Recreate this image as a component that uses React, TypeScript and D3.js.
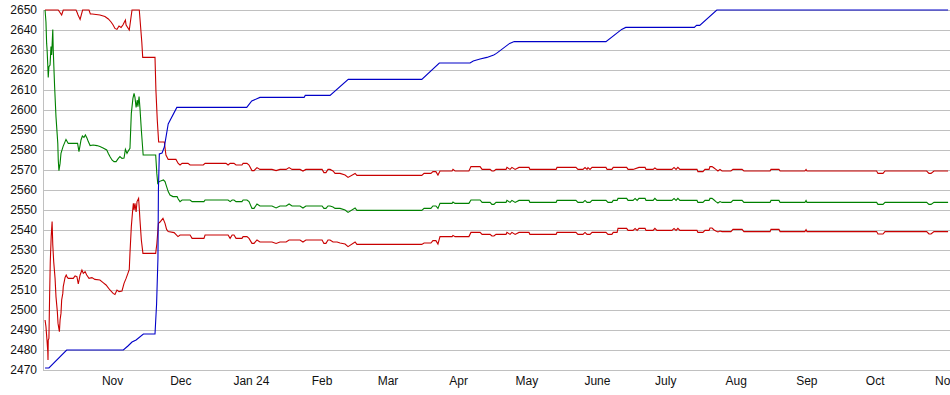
import React from "react";
import * as d3 from "d3";

// Time axis: day offsets from 2023-10-01 (UTC)
const START = Date.UTC(2023, 9, 1);
const END = Date.UTC(2024, 10, 2);

const yTicks = [2470, 2480, 2490, 2500, 2510, 2520, 2530, 2540, 2550, 2560, 2570, 2580, 2590, 2600, 2610, 2620, 2630, 2640, 2650];

const monthTicks: [string, string][] = [
  ["2023-11-01", "Nov"], ["2023-12-01", "Dec"], ["2024-01-01", "Jan 24"], ["2024-02-01", "Feb"],
  ["2024-03-01", "Mar"], ["2024-04-01", "Apr"], ["2024-05-01", "May"], ["2024-06-01", "June"],
  ["2024-07-01", "July"], ["2024-08-01", "Aug"], ["2024-09-01", "Sep"], ["2024-10-01", "Oct"],
  ["2024-11-01", "Nov"],
];

// [day offset, value]
const blueLine: [number, number][] = [
  [0.9, 2471], [2.6, 2471], [10.4, 2480], [35.3, 2480], [37.3, 2482], [39.1, 2484], [40.9, 2485],
  [44.1, 2488], [49.2, 2488], [49.9, 2503], [50.5, 2526], [50.7, 2560], [51.1, 2578], [52.3, 2578.5],
  [53.3, 2581.5], [55.0, 2593], [58.8, 2601.3], [89.5, 2601.3], [91.7, 2604.5], [95.3, 2606.3],
  [114.7, 2606.3], [115.2, 2607.3], [126.1, 2607.3], [134.1, 2615.3], [166.4, 2615.3], [174.1, 2623.5],
  [187.6, 2623.5], [189, 2624.5], [192, 2625.5], [195, 2626.3], [198, 2627.5], [199.2, 2628.3],
  [205, 2633.3], [207, 2634.2], [247.3, 2634.2], [254.2, 2640.3], [256, 2641.3], [286.1, 2641.3],
  [287.1, 2642.3], [288.5, 2642.3], [296, 2650], [397.6, 2650],
];

const upperBand: [number, number][] = [
  [0.9, 2650], [6.7, 2650], [8.2, 2647.5], [8.9, 2650], [14.5, 2650], [14.9, 2649], [15.4, 2647.5],
  [16.3, 2645.3], [17.4, 2650], [20.2, 2650], [20.8, 2648], [21.6, 2648], [25.0, 2647.5], [27.2, 2646.7],
  [28.7, 2645.5], [29.9, 2644], [30.8, 2642.5], [31.6, 2640.8], [32.5, 2640.3], [33.4, 2642],
  [34.3, 2641.3], [35.1, 2642.5], [36.2, 2645], [36.5, 2642.5], [37.9, 2640], [39.1, 2650], [42.3, 2650],
  [43.4, 2634], [43.8, 2626.3], [49.2, 2626.3], [49.6, 2610], [50.2, 2595], [50.8, 2584], [53.3, 2584],
  [54.0, 2577.5], [55.0, 2575.3], [58.4, 2575.3], [59.4, 2573.3], [60.2, 2572.5], [61.1, 2573.3],
  [63.7, 2573.3], [64.6, 2572.5], [70.4, 2572.5], [71.2, 2573.3], [80.4, 2573.3], [81.3, 2572.5],
  [82.2, 2573.3], [83.9, 2573.3], [84.8, 2572.5], [87.4, 2572.5], [87.9, 2573.3], [89.6, 2573.3],
  [90.5, 2572.5], [91.8, 2569.7], [92.7, 2569.7], [94.0, 2571.2], [95.3, 2570.3], [100.6, 2570.3],
  [102.4, 2569.7], [104.1, 2570.3], [106.8, 2570.3], [108.1, 2571.2], [109.4, 2570.3], [112.9, 2570.3],
  [114.2, 2569.5], [115.5, 2570.3], [122.6, 2570.3], [123.4, 2568.7], [124.3, 2568.7], [125.2, 2570.3],
  [126.1, 2570.3], [127.4, 2569.5], [128.3, 2568.3], [130.5, 2568.3], [132.7, 2567.5], [134.0, 2566.3],
  [137.1, 2568.3], [137.9, 2567.3], [166.4, 2567.3], [167.4, 2568.3], [170.4, 2568.3], [171.3, 2569.2],
  [172.6, 2569.2], [173.5, 2567.5], [174.4, 2569.5], [179.7, 2569.5], [180.1, 2570.3], [181.0, 2569.5],
  [187.1, 2569.5], [188.0, 2571.7], [192.0, 2571.7], [192.9, 2570.3], [196.4, 2570.3], [197.2, 2569.5],
  [198.1, 2569.5], [199.0, 2570.3], [203.4, 2570.3], [203.8, 2571.3], [205.2, 2570.3], [206.0, 2571.3],
  [207.4, 2570.3], [209.1, 2571.3], [213.5, 2571.3], [213.9, 2570.3], [225.4, 2570.3], [225.8, 2571.3],
  [234.1, 2571.3], [235.0, 2570.3], [237.2, 2570.3], [238.1, 2571.2], [239.0, 2570.3], [239.4, 2571.2],
  [240.3, 2570.3], [241.2, 2571.3], [247.3, 2571.3], [247.8, 2570.3], [249.9, 2570.3], [250.5, 2571.3],
  [256.4, 2571.3], [257.0, 2570.3], [259.2, 2570.3], [261.8, 2571.3], [264.5, 2571.3], [264.9, 2570.3],
  [268.0, 2570.3], [268.8, 2571.0], [269.7, 2570.3], [276.3, 2570.3], [277.2, 2571.3], [278.1, 2570.3],
  [278.9, 2571.3], [279.8, 2570.3], [287.3, 2570.3], [287.7, 2569.2], [289.9, 2569.2], [290.8, 2570.3],
  [292.6, 2570.3], [293.0, 2571.7], [293.9, 2571.7], [294.8, 2571.0], [295.6, 2570.3], [296.5, 2569.5],
  [297.4, 2570.3], [298.3, 2569.5], [302.2, 2569.5], [303.1, 2570.3], [307.1, 2570.3], [307.9, 2569.5],
  [319.4, 2569.5], [319.8, 2570.3], [323.3, 2570.3], [323.8, 2569.5], [334.7, 2569.5], [335.2, 2570.3],
  [335.6, 2569.5], [366.2, 2569.5], [366.8, 2568.3], [369.0, 2568.3], [369.9, 2569.5], [388.2, 2569.5],
  [389.2, 2568.3], [390.1, 2568.3], [391.4, 2569.5], [397.6, 2569.5],
];

const midLine: [number, number][] = [
  [0.9, 2650], [1.3, 2644], [1.6, 2633.3], [1.8, 2630], [2.1, 2622.5], [2.3, 2616.3], [2.6, 2621.7],
  [3.1, 2622.5], [3.5, 2631.7], [3.8, 2627.5], [4.3, 2640.3], [4.5, 2630], [5.1, 2611.7], [5.7, 2596.7],
  [6.5, 2583.3], [6.7, 2575], [7.0, 2569.7], [7.5, 2573.3], [7.9, 2578.3], [8.8, 2581.7], [9.7, 2584.2],
  [10.1, 2585.3], [11.1, 2583.3], [15.2, 2583.3], [15.8, 2579.2], [16.7, 2585], [17.3, 2587],
  [18.0, 2586.3], [18.6, 2587.5], [19.3, 2586], [19.9, 2584.2], [20.7, 2582.2], [22.0, 2582.5],
  [23.7, 2582.2], [25.0, 2581.7], [26.4, 2581], [28.0, 2580], [28.7, 2578.3], [29.4, 2576.7],
  [30.3, 2575], [31.2, 2574.2], [32.1, 2574.2], [33.1, 2575.8], [33.8, 2576.7], [34.7, 2575.8],
  [35.6, 2576], [36.2, 2580.3], [36.9, 2578.3], [37.3, 2579.2], [38.2, 2580.8], [38.8, 2598.3],
  [39.5, 2605.8], [40.0, 2608.3], [40.4, 2606.3], [40.9, 2601.3], [41.4, 2605], [41.7, 2601.7],
  [42.2, 2606.7], [42.6, 2600.8], [43.2, 2590], [44.0, 2577.5], [49.5, 2577.5], [50.0, 2568.3],
  [50.4, 2563.3], [51.0, 2564.2], [52.9, 2565], [53.6, 2564.2], [54.3, 2561.7], [55.0, 2559.2],
  [55.8, 2557.5], [57.1, 2556.7], [58.9, 2556.7], [59.4, 2555.5], [60.2, 2554.2], [61.1, 2555],
  [64.6, 2555], [65.5, 2554.2], [70.7, 2554.2], [71.2, 2555], [81.3, 2555], [82.2, 2554.2],
  [83.1, 2555], [83.9, 2555], [84.8, 2554.2], [87.4, 2554.2], [87.9, 2555], [89.6, 2555],
  [90.5, 2554.2], [91.8, 2550.8], [92.7, 2550.8], [94.0, 2553], [95.3, 2552], [100.6, 2552],
  [102.4, 2551], [104.1, 2552], [106.8, 2552], [108.1, 2553], [109.4, 2552], [112.9, 2552],
  [114.2, 2551], [115.5, 2552], [122.6, 2552], [123.4, 2550.8], [124.3, 2550.8], [125.2, 2552],
  [126.1, 2552], [127.4, 2551.5], [128.3, 2550.8], [130.5, 2550.8], [132.7, 2550], [134.0, 2548.8],
  [137.1, 2551], [137.9, 2549.8], [166.4, 2549.8], [167.4, 2550.8], [170.4, 2550.8], [171.3, 2552],
  [172.6, 2552], [173.5, 2550.8], [174.4, 2553.3], [179.7, 2553.3], [180.1, 2554], [181.0, 2553.3],
  [187.1, 2553.3], [188.0, 2555], [192.0, 2555], [192.9, 2553.8], [196.4, 2553.8], [197.2, 2552.8],
  [198.1, 2552.8], [199.0, 2553.8], [203.4, 2553.8], [203.8, 2554.8], [205.2, 2553.8], [206.0, 2554.8],
  [207.4, 2553.8], [209.1, 2554.8], [213.5, 2554.8], [213.9, 2553.8], [225.4, 2553.8], [225.8, 2554.8],
  [234.1, 2554.8], [235.0, 2553.8], [237.2, 2553.8], [238.1, 2554.8], [239.0, 2553.8], [240.3, 2553.8],
  [241.2, 2554.8], [247.3, 2554.8], [248.2, 2553.8], [249.9, 2553.8], [250.5, 2554.8], [252.2, 2554.8],
  [252.6, 2555.8], [256.4, 2555.8], [257.0, 2554.8], [259.2, 2554.8], [260.1, 2555.8], [261.0, 2554.8],
  [261.8, 2555.8], [264.5, 2555.8], [264.9, 2554.8], [268.0, 2554.8], [268.8, 2555.8], [269.7, 2554.8],
  [276.3, 2554.8], [277.2, 2555.8], [278.1, 2554.8], [278.9, 2555.8], [279.8, 2554.8], [287.3, 2554.8],
  [287.7, 2553.8], [289.9, 2553.8], [290.8, 2554.8], [292.6, 2554.8], [293.0, 2555.8], [293.9, 2555.8],
  [294.8, 2555], [295.6, 2554.2], [296.5, 2553.5], [297.4, 2554.2], [298.3, 2553.8], [302.2, 2553.8],
  [303.1, 2554.8], [307.1, 2554.8], [307.9, 2553.8], [319.4, 2553.8], [319.8, 2554.8], [323.3, 2554.8],
  [323.8, 2553.8], [334.7, 2553.8], [335.2, 2554.8], [335.6, 2553.8], [366.2, 2553.8], [366.8, 2552.8],
  [369.0, 2552.8], [369.9, 2553.8], [388.2, 2553.8], [389.2, 2552.8], [390.1, 2552.8], [391.4, 2553.8],
  [397.6, 2553.8],
];

const lowerBand: [number, number][] = [
  [0.9, 2495], [1.3, 2491.7], [1.8, 2484.2], [2.1, 2479.2], [2.2, 2475], [2.3, 2485], [2.6, 2485.8],
  [2.9, 2506.7], [3.2, 2524.2], [3.6, 2536.7], [4.0, 2544.2], [4.3, 2532.5], [4.7, 2524.2], [5.3, 2515.8],
  [5.7, 2506.7], [6.3, 2499.2], [6.6, 2493.3], [7.2, 2489.2], [7.5, 2495], [7.9, 2498.3], [8.2, 2505],
  [8.7, 2508.3], [8.9, 2511.7], [9.7, 2516.3], [10.2, 2517.5], [10.7, 2516.3], [11.1, 2515.8],
  [13.3, 2515.8], [14.1, 2517], [14.9, 2516.7], [15.5, 2513], [16.3, 2517.5], [17.1, 2520],
  [17.7, 2518.3], [18.5, 2519.2], [19.2, 2517.5], [20.2, 2515.8], [21.5, 2516.2], [22.8, 2515.3],
  [25.0, 2515], [26.4, 2513.7], [27.7, 2512.5], [29.4, 2510], [30.8, 2508.3], [31.6, 2507.8],
  [32.5, 2510], [33.4, 2509.2], [34.7, 2509.5], [35.6, 2513.3], [36.5, 2515.8], [37.3, 2518.3],
  [37.9, 2520.3], [38.2, 2528.3], [38.8, 2541.7], [39.4, 2550], [39.7, 2553.3], [40.0, 2550],
  [40.4, 2553.3], [40.9, 2549], [41.3, 2554.2], [42.0, 2555.8], [42.3, 2550.8], [42.6, 2545],
  [43.2, 2535], [43.9, 2528.3], [49.5, 2528.3], [50.0, 2533], [50.7, 2543.3], [51.4, 2544],
  [52.7, 2545.8], [53.6, 2543.3], [54.3, 2540.3], [55.0, 2539.2], [57.6, 2538.7], [59.3, 2536.7],
  [60.2, 2537.5], [64.6, 2537.5], [65.5, 2535.8], [70.7, 2535.8], [71.2, 2537.5], [81.3, 2537.5],
  [82.2, 2535.8], [83.1, 2537.5], [83.9, 2537.5], [84.8, 2535.8], [87.4, 2535.8], [87.9, 2536.7],
  [89.6, 2536.7], [90.5, 2535.8], [91.8, 2533.3], [92.7, 2533.3], [94.0, 2535], [95.3, 2534],
  [100.6, 2534], [102.4, 2533.3], [104.1, 2534], [106.8, 2534], [108.1, 2535], [112.9, 2535],
  [114.2, 2534], [115.5, 2535], [122.6, 2535], [123.4, 2533.3], [124.3, 2533.3], [125.2, 2535],
  [126.1, 2535], [127.4, 2534], [129.2, 2534], [130.5, 2533.5], [132.7, 2533], [134.0, 2531.7],
  [137.1, 2534], [137.9, 2532.8], [166.4, 2532.8], [167.4, 2533.5], [170.4, 2533.5], [171.3, 2534.7],
  [172.6, 2534.7], [173.5, 2533], [174.4, 2536.7], [179.7, 2536.7], [180.1, 2537.3], [181.0, 2536.7],
  [187.1, 2536.7], [188.0, 2538.8], [192.0, 2538.8], [192.9, 2537.8], [196.4, 2537.8], [197.2, 2537],
  [198.1, 2537], [199.0, 2537.8], [203.4, 2537.8], [203.8, 2538.8], [205.2, 2537.8], [206.0, 2538.8],
  [207.4, 2537.8], [209.1, 2538.8], [213.5, 2538.8], [213.9, 2537.8], [225.4, 2537.8], [225.8, 2538.8],
  [234.1, 2538.8], [235.0, 2537.8], [237.2, 2537.8], [238.1, 2538.8], [239.0, 2537.8], [240.3, 2537.8],
  [241.2, 2538.8], [247.3, 2538.8], [248.2, 2537.8], [249.9, 2537.8], [250.5, 2538.8], [252.2, 2538.8],
  [252.6, 2540.8], [256.4, 2540.8], [257.0, 2539.8], [259.2, 2539.8], [260.1, 2540.8], [261.0, 2539.8],
  [261.8, 2540.8], [264.5, 2540.8], [264.9, 2539.8], [268.0, 2539.8], [268.8, 2540.8], [269.7, 2539.8],
  [276.3, 2539.8], [277.2, 2540.8], [278.1, 2539.8], [278.9, 2540.8], [279.8, 2539.8], [287.3, 2539.8],
  [287.7, 2538.8], [289.9, 2538.8], [290.8, 2539.8], [292.6, 2539.8], [293.0, 2541], [293.9, 2541],
  [294.8, 2540], [295.6, 2539.5], [296.5, 2539], [297.4, 2539.5], [298.3, 2539.2], [302.2, 2539.2],
  [303.1, 2540.3], [307.1, 2540.3], [307.9, 2539.2], [319.4, 2539.2], [319.8, 2540.3], [323.3, 2540.3],
  [323.8, 2539.2], [334.7, 2539.2], [335.2, 2540.2], [335.6, 2539.2], [366.2, 2539.2], [366.8, 2538],
  [369.0, 2538], [369.9, 2539.2], [388.2, 2539.2], [389.2, 2538], [390.1, 2538], [391.4, 2539.2],
  [397.6, 2539.2],
];

const W = 950;
const H = 395;
const LEFT = 43;
const RIGHT = 949;
const TOP = 10;
const BOTTOM = 370;

export default function App() {
  const x = d3.scaleUtc().domain([new Date(START), new Date(END)]).range([LEFT, RIGHT]);
  const y = d3.scaleLinear().domain([2470, 2650]).range([BOTTOM, TOP]);
  const toDate = (d: number) => new Date(START + d * 86400000);
  const line = d3
    .line<[number, number]>()
    .x((p) => x(toDate(p[0])))
    .y((p) => y(p[1]));

  const series: { data: [number, number][]; color: string }[] = [
    { data: upperBand, color: "#c80000" },
    { data: lowerBand, color: "#c80000" },
    { data: midLine, color: "#008000" },
    { data: blueLine, color: "#0000c8" },
  ];

  return (
    <div style={{ position: "absolute", left: 0, top: 0, width: W, height: H, background: "#fff" }}>
      <svg width={W} height={H} style={{ display: "block", fontFamily: "Arial, 'Liberation Sans', sans-serif" }}>
        <rect x={0} y={0} width={W} height={H} fill="#fff" />
        {yTicks.map((t) => (
          <line
            key={"g" + t}
            x1={LEFT}
            x2={W}
            y1={Math.round(y(t)) + 0.5}
            y2={Math.round(y(t)) + 0.5}
            stroke="#c0c0c0"
            strokeWidth={1}
          />
        ))}
        <line x1={LEFT + 0.5} x2={LEFT + 0.5} y1={TOP} y2={BOTTOM + 1} stroke="#c0c0c0" strokeWidth={1} />
        {yTicks.map((t) => (
          <text key={"t" + t} x={37} y={y(t)} dy="0.35em" textAnchor="end" fontSize={12} fill="#111">
            {t}
          </text>
        ))}
        {monthTicks.map(([d, label], i) => (
          <text
            key={"m" + i}
            x={x(new Date(d + "T00:00:00Z")) - 1}
            y={385}
            textAnchor="middle"
            fontSize={12}
            fill="#111"
          >
            {label}
          </text>
        ))}
        {series.map((s, i) => (
          <path
            key={"s" + i}
            d={line(s.data) || ""}
            fill="none"
            stroke={s.color}
            strokeWidth={1.1}
            strokeLinejoin="miter"
          />
        ))}
      </svg>
    </div>
  );
}
